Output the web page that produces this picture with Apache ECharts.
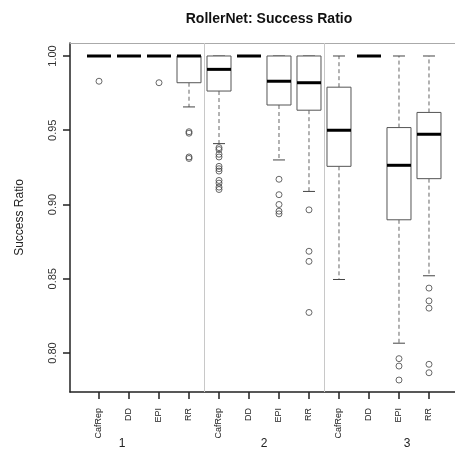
<!DOCTYPE html>
<html>
<head>
<meta charset="utf-8">
<script src="https://cdn.jsdelivr.net/npm/echarts@6/dist/echarts.min.js"></script>
<style>html,body{margin:0;padding:0;background:#fff}#c{width:455px;height:452px}</style>
</head>
<body>
<div id="c"></div>
<script>
// ---- data ----
var tickLabels = ['CafRep','DD','EPI','RR','CafRep','DD','EPI','RR','CafRep','DD','EPI','RR'];
var tickPositions = [1,2,3,4,5,6,7,8,9,10,11,12];
var groupLabels = ['1','2','3'];
var groupLabelPositions = [1.77, 6.5, 11.27];
var groupSeparators = [4.5, 8.5];
var yTicks = [0.80, 0.85, 0.90, 0.95, 1.00];
// [min, Q1, median, Q3, max]
var boxStats = [
  [1.000, 1.000, 1.000, 1.000, 1.000],
  [1.000, 1.000, 1.000, 1.000, 1.000],
  [1.000, 1.000, 1.000, 1.000, 1.000],
  [0.9657, 0.982, 1.000, 1.000, 1.000],
  [0.941, 0.9764, 0.991, 1.000, 1.000],
  [1.000, 1.000, 1.000, 1.000, 1.000],
  [0.930, 0.967, 0.983, 1.000, 1.000],
  [0.9088, 0.9635, 0.982, 1.000, 1.000],
  [0.8495, 0.9257, 0.950, 0.979, 1.000],
  [1.000, 1.000, 1.000, 1.000, 1.000],
  [0.8066, 0.8897, 0.9264, 0.9518, 1.000],
  [0.852, 0.9174, 0.9473, 0.962, 1.000]
];
var outlierValues = [
  [0.983],
  [],
  [0.982],
  [0.949, 0.948, 0.932, 0.931],
  [0.9383, 0.937, 0.9338, 0.932, 0.9257, 0.9241, 0.9225, 0.9162, 0.9144, 0.9117, 0.9101],
  [],
  [0.917, 0.9066, 0.900, 0.8955, 0.8937],
  [0.8964, 0.8685, 0.8617, 0.8273],
  [],
  [],
  [0.7962, 0.7912, 0.7818],
  [0.8437, 0.8351, 0.8302, 0.7924, 0.7867]
];

// ---- build ----
var boxData = boxStats.map(function (s, i) { return [tickPositions[i]].concat(s); });
var outlierData = [];
outlierValues.forEach(function (arr, i) {
  arr.forEach(function (v) { outlierData.push([tickPositions[i], v]); });
});

var XMIN = 0.0333, XMAX = 12.8667;
var FONT = 'Liberation Sans, Arial, sans-serif';

var chart = echarts.init(document.getElementById('c'));
chart.setOption({
  animation: false,
  backgroundColor: '#fff',
  title: {
    text: 'RollerNet: Success Ratio',
    left: 264, top: 7, textAlign: 'center',
    textStyle: { fontFamily: FONT, fontSize: 14, fontWeight: 'bold', color: '#111' }
  },
  grid: { left: 70, right: 0, top: 43, bottom: 60 },
  xAxis: [
    {
      type: 'value', min: XMIN, max: XMAX, position: 'bottom',
      splitLine: { show: false },
      axisLine: { show: true, lineStyle: { color: '#222', width: 1.5 } },
      axisTick: { show: true, customValues: tickPositions, length: 7, lineStyle: { color: '#222', width: 1.5 } },
      axisLabel: {
        customValues: tickPositions, rotate: 90, margin: 16,
        fontFamily: FONT, fontSize: 9, color: '#222',
        formatter: function (v) { var i = tickPositions.indexOf(Math.round(v)); return i >= 0 ? tickLabels[i] : ''; }
      }
    },
    {
      type: 'value', min: XMIN, max: XMAX, position: 'bottom',
      splitLine: { show: false },
      axisLine: { show: false }, axisTick: { show: false },
      axisLabel: {
        customValues: groupLabelPositions, margin: 46,
        fontFamily: FONT, fontSize: 12, color: '#222',
        formatter: function (v) {
          var best = 0, d = 1e9;
          groupLabelPositions.forEach(function (p, i) { if (Math.abs(p - v) < d) { d = Math.abs(p - v); best = i; } });
          return groupLabels[best];
        }
      }
    },
    {
      type: 'value', min: XMIN, max: XMAX, position: 'top',
      splitLine: { show: false },
      axisLine: { show: true, lineStyle: { color: '#aaa', width: 1 } },
      axisTick: { show: false }, axisLabel: { show: false }
    }
  ],
  yAxis: {
    type: 'value', min: 0.77374, max: 1.00875,
    splitLine: { show: false },
    name: 'Success Ratio', nameLocation: 'middle', nameRotate: 90, nameGap: 44,
    nameTextStyle: { fontFamily: FONT, fontSize: 12, color: '#222' },
    axisLine: { show: true, lineStyle: { color: '#222', width: 1.5 } },
    axisTick: { show: true, customValues: yTicks, length: 7, lineStyle: { color: '#222', width: 1.5 } },
    axisLabel: {
      customValues: yTicks, rotate: 90, margin: 12,
      fontFamily: FONT, fontSize: 11, color: '#333',
      formatter: function (v) { return v.toFixed(2); }
    }
  },
  series: [
    {
      type: 'custom',
      xAxisIndex: 0, yAxisIndex: 0,
      data: boxData,
      encode: { x: 0, y: [1, 2, 3, 4, 5] },
      renderItem: function (params, api) {
        var x = api.value(0);
        var pLo = api.coord([x, api.value(1)]);
        var pQ1 = api.coord([x, api.value(2)]);
        var pMed = api.coord([x, api.value(3)]);
        var pQ3 = api.coord([x, api.value(4)]);
        var pHi = api.coord([x, api.value(5)]);
        var w = api.size([1, 0])[0] * 0.8;
        var sw = w * 0.5;
        var cx = pMed[0];
        var dash = { stroke: '#666', lineWidth: 1, lineDash: [4, 3] };
        var solid = { stroke: '#444', lineWidth: 1 };
        return {
          type: 'group',
          children: [
            { type: 'line', shape: { x1: cx, y1: pQ3[1], x2: cx, y2: pHi[1] }, style: dash },
            { type: 'line', shape: { x1: cx, y1: pQ1[1], x2: cx, y2: pLo[1] }, style: dash },
            { type: 'line', shape: { x1: cx - sw / 2, y1: pHi[1], x2: cx + sw / 2, y2: pHi[1] }, style: solid },
            { type: 'line', shape: { x1: cx - sw / 2, y1: pLo[1], x2: cx + sw / 2, y2: pLo[1] }, style: solid },
            { type: 'rect', shape: { x: cx - w / 2, y: pQ3[1], width: w, height: pQ1[1] - pQ3[1] }, style: { stroke: '#555', lineWidth: 1, fill: '#fff' } },
            { type: 'line', shape: { x1: cx - w / 2, y1: pMed[1], x2: cx + w / 2, y2: pMed[1] }, style: { stroke: '#000', lineWidth: 3 } }
          ]
        };
      },
      markLine: {
        silent: true, symbol: 'none', label: { show: false },
        lineStyle: { color: '#c8c8c8', width: 1, type: 'solid' },
        data: groupSeparators.map(function (v) { return { xAxis: v }; })
      },
      z: 3
    },
    {
      type: 'scatter',
      xAxisIndex: 0, yAxisIndex: 0,
      data: outlierData,
      symbol: 'circle', symbolSize: 6,
      itemStyle: { color: 'rgba(0,0,0,0)', borderColor: '#444', borderWidth: 1 },
      z: 4
    }
  ]
});
</script>
</body>
</html>
